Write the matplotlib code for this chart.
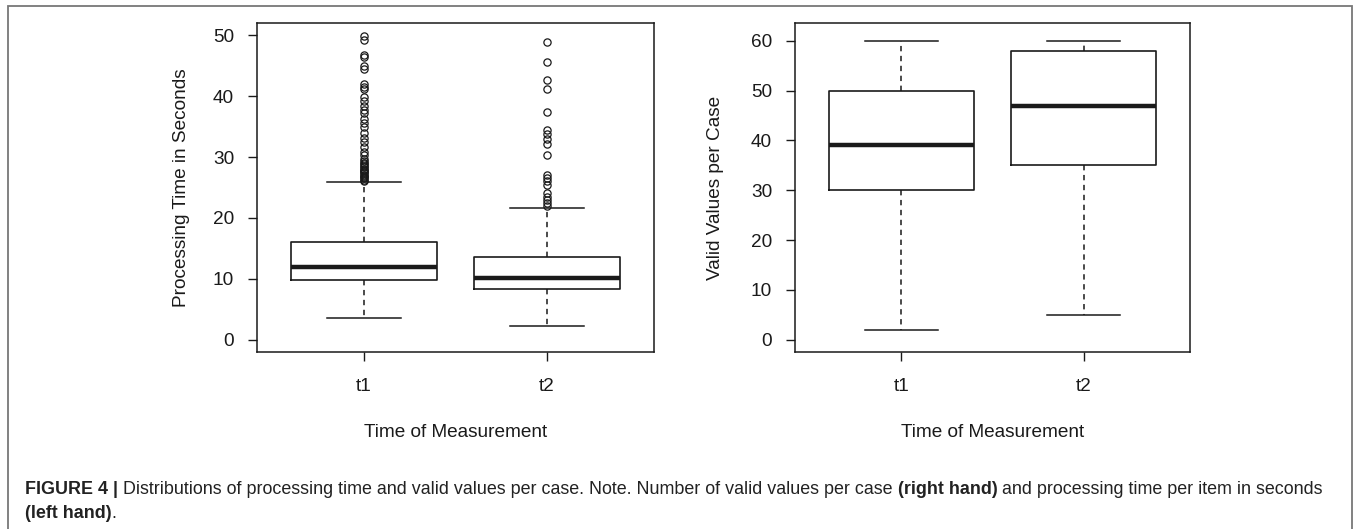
import matplotlib.pyplot as plt
import matplotlib.patches as patches

plt.rcParams['font.family'] = ['Liberation Sans', 'DejaVu Sans']

groups = ['t1', 't2']

# processing time (left hand)
time_lo = [3.6, 2.3]
time_q1 = [9.8, 8.4]
time_med = [12.0, 10.2]
time_q3 = [16.1, 13.6]
time_hi = [25.9, 21.6]
time_out_t1 = [49.8, 49.2, 46.8, 46.4, 45.0, 44.4, 41.9, 41.4, 41.1, 39.9, 39.1,
               38.4, 37.7, 37.2, 36.3, 35.6, 35.0, 33.9, 33.1, 32.5, 31.7, 30.9,
               30.3, 29.6, 29.3, 29.0, 28.8, 28.5, 28.3, 28.1, 27.9, 27.7, 27.5,
               27.3, 27.1, 26.9, 26.7, 26.5, 26.3, 26.1]
time_out_t2 = [48.8, 45.6, 42.6, 41.1, 37.3, 34.4, 33.7, 32.9, 32.2, 30.3, 27.0,
               26.5, 26.0, 25.4, 24.1, 23.5, 23.0, 22.4, 21.9]

# valid values per case (right hand)
valid_lo = [2, 5]
valid_q1 = [30, 35]
valid_med = [39, 47]
valid_q3 = [50, 58]
valid_hi = [60, 60]

INK = '#1a1a1a'
FS = 13.7


def make_stats(lo, q1, med, q3, hi, fliers):
    out = []
    for i in range(len(lo)):
        out.append(dict(whislo=lo[i], q1=q1[i], med=med[i], q3=q3[i],
                        whishi=hi[i], fliers=fliers[i], label=groups[i]))
    return out


def draw_box(ax, stats, ylim, yticks, ylabel, ylabx):
    ax.bxp(stats, positions=[1, 2], widths=0.8, capwidths=0.4,
           patch_artist=False, showfliers=True,
           boxprops=dict(color=INK, linewidth=1.2),
           medianprops=dict(color=INK, linewidth=3.2, solid_capstyle='butt'),
           whiskerprops=dict(color=INK, linewidth=1.1, linestyle=(0, (3.5, 3))),
           capprops=dict(color=INK, linewidth=1.1),
           flierprops=dict(marker='o', markersize=5.2, markerfacecolor='none',
                           markeredgecolor=INK, markeredgewidth=0.9, linestyle='none'))
    ax.set_xlim(0.415, 2.585)
    ax.set_ylim(*ylim)
    ax.set_yticks(yticks)
    ax.set_xticks([1, 2])
    ax.set_xticklabels(groups)
    ax.tick_params(axis='both', direction='out', length=6.5, width=1.0,
                   color=INK, labelcolor=INK, labelsize=FS)
    ax.tick_params(axis='y', pad=10)
    ax.tick_params(axis='x', pad=12)
    for s in ax.spines.values():
        s.set_color(INK)
        s.set_linewidth(1.1)
    ax.set_ylabel(ylabel, fontsize=FS, color=INK, va='center')
    ax.yaxis.set_label_coords(ylabx, 0.5)
    ax.set_xlabel('Time of Measurement', fontsize=FS, color=INK, va='center')
    ax.xaxis.set_label_coords(0.5, -0.246)


fig = plt.figure(figsize=(13.56, 5.29), dpi=100)

ax1 = fig.add_axes([257 / 1356, 1 - 352 / 529, 397 / 1356, 329 / 529])
draw_box(ax1, make_stats(time_lo, time_q1, time_med, time_q3, time_hi,
                         [time_out_t1, time_out_t2]),
         (-1.97, 51.97), [0, 10, 20, 30, 40, 50], 'Processing Time in Seconds', -0.19)

ax2 = fig.add_axes([795 / 1356, 1 - 352 / 529, 395 / 1356, 329 / 529])
draw_box(ax2, make_stats(valid_lo, valid_q1, valid_med, valid_q3, valid_hi, [[], []]),
         (-2.5, 63.6), [0, 10, 20, 30, 40, 50, 60], 'Valid Values per Case', -0.2)

# outer frame
frame = patches.Rectangle((8 / 1356, -0.1), 1344 / 1356, 1.1 - 6 / 529,
                          transform=fig.transFigure, fill=False,
                          edgecolor='#777777', linewidth=1.3)
fig.add_artist(frame)

# caption with bold pieces
line1 = [('FIGURE 4 |', 'bold'),
         (' Distributions of processing time and valid values per case. Note. Number of valid values per case ', 'normal'),
         ('(right hand)', 'bold'),
         (' and processing time per item in seconds', 'normal')]
line2 = [('(left hand)', 'bold'), ('.', 'normal')]

renderer = fig.canvas.get_renderer()
cap_size = 12.9
for pieces, ypx in [(line1, 490), (line2, 514)]:
    x = 25
    for txt, wt in pieces:
        t = fig.text(x / 1356, 1 - ypx / 529, txt, fontsize=cap_size, fontweight=wt,
                     color='#222222', ha='left', va='center')
        bb = t.get_window_extent(renderer=renderer)
        x += bb.width

fig.savefig('out.png', dpi=100)
